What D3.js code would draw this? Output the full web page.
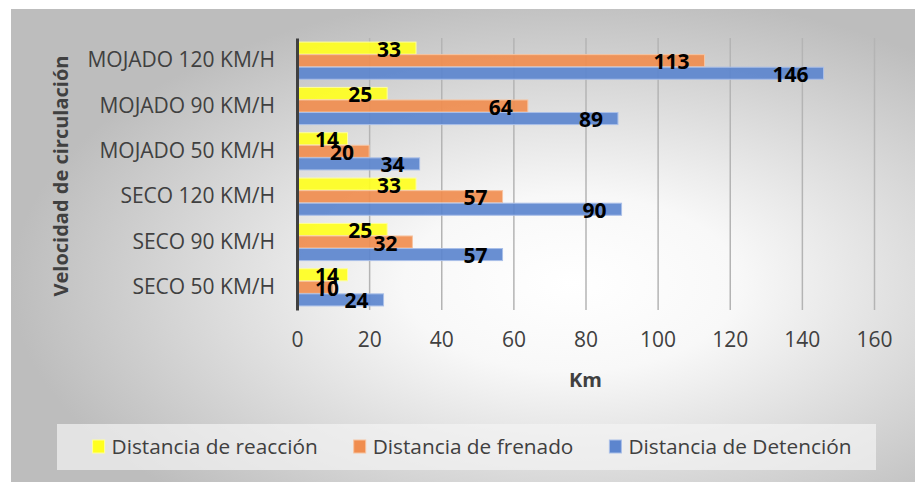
<!DOCTYPE html>
<html>
<head>
<meta charset="utf-8">
<script src="https://cdn.jsdelivr.net/npm/d3@7"></script>
<style>
  body { margin: 0; background: #fff; }
  svg { display: block; font-family: "Open Sans", sans-serif; }
</style>
</head>
<body>
<svg id="chart"></svg>
<script>
const width = 915;
const height = 482;

// data, bottom category first (as in the source sheet)
const categories = ['SECO 50 KM/H', 'SECO 90 KM/H', 'SECO 120 KM/H', 'MOJADO 50 KM/H', 'MOJADO 90 KM/H', 'MOJADO 120 KM/H'];
const reaccion = [14, 25, 33, 14, 25, 33];
const frenado = [10, 32, 57, 20, 64, 113];
const detencion = [24, 57, 90, 34, 89, 146];
const seriesNames = ['Distancia de reacción', 'Distancia de frenado', 'Distancia de Detención'];
const xTicks = [0, 20, 40, 60, 80, 100, 120, 140, 160];

const colors = ['#FFFF1F', '#F08D4F', '#5C85CE'];
const strokes = ['#FFFF9A', '#F7C3A0', '#A9BFE8'];

const plot = {left: 297, right: 874, top: 38, bottom: 310};

const svg = d3.select('#chart')
    .attr('width', width)
    .attr('height', height);

const defs = svg.append('defs');
const grad = defs.append('radialGradient')
    .attr('id', 'bg')
    .attr('cx', 0.62).attr('cy', 0.58).attr('r', 0.62);
grad.append('stop').attr('offset', '0%').attr('stop-color', '#ffffff');
grad.append('stop').attr('offset', '30%').attr('stop-color', '#f8f8f8');
grad.append('stop').attr('offset', '100%').attr('stop-color', '#bdbdbd');

svg.append('rect')
    .attr('x', 11).attr('y', 9)
    .attr('width', width - 11).attr('height', height - 9)
    .attr('fill', 'url(#bg)');

const x = d3.scaleLinear().domain([0, 160]).range([plot.left, plot.right]);
const y = d3.scaleBand()
    .domain(categories.slice().reverse())
    .range([plot.top, plot.bottom])
    .paddingInner(0.18)
    .paddingOuter(0.09);
const yInner = d3.scaleBand().domain([0, 1, 2]).range([0, y.bandwidth()]).paddingInner(0.04);

// gridlines
svg.append('g')
    .attr('transform', `translate(0, ${plot.bottom})`)
    .call(d3.axisBottom(x).tickValues(xTicks.slice(1)).tickSize(-(plot.bottom - plot.top)).tickFormat(''))
    .call(g => g.select('.domain').remove())
    .call(g => g.selectAll('line').attr('stroke', '#b4b4b4').attr('stroke-width', 1.5));

// tick labels
svg.append('g')
    .attr('transform', `translate(0, ${plot.bottom})`)
    .call(d3.axisBottom(x).tickValues(xTicks).tickSize(0).tickPadding(22))
    .call(g => g.select('.domain').remove())
    .call(g => g.selectAll('text')
        .attr('font-family', '"Open Sans", sans-serif')
        .attr('font-size', 21)
        .attr('fill', '#404040'));

const rows = categories.map((c, i) => ({cat: c, values: [reaccion[i], frenado[i], detencion[i]]}));

const groups = svg.append('g').selectAll('g')
    .data(rows).enter()
    .append('g')
    .attr('transform', d => `translate(0, ${y(d.cat)})`);

groups.selectAll('rect')
    .data(d => d.values).enter()
    .append('rect')
    .attr('x', x(0))
    .attr('y', (d, i) => yInner(i))
    .attr('width', d => x(d) - x(0))
    .attr('height', yInner.bandwidth())
    .attr('fill', (d, i) => colors[i])
    .attr('fill-opacity', 0.92)
    .attr('stroke', (d, i) => strokes[i])
    .attr('stroke-width', 1);

// category axis with dark baseline
svg.append('g')
    .attr('transform', `translate(${plot.left}, 0)`)
    .call(d3.axisLeft(y).tickSize(0).tickSizeOuter(0).tickPadding(22))
    .call(g => g.select('.domain').attr('stroke', '#404040').attr('stroke-width', 3))
    .call(g => g.selectAll('text')
        .attr('font-family', '"Open Sans", sans-serif')
        .attr('font-size', 21)
        .attr('fill', '#404040'));

// value labels
const labelLayer = svg.append('g');
rows.forEach(r => {
    r.values.forEach((v, i) => {
        const cy = y(r.cat) + yInner(i) + yInner.bandwidth() / 2;
        const t = labelLayer.append('text')
            .attr('x', x(v) - 15)
            .attr('y', cy + 8.5)
            .attr('text-anchor', 'end')
            .attr('font-family', '"Open Sans", sans-serif')
            .attr('font-weight', 700)
            .attr('font-size', 21)
            .attr('fill', '#000')
            .text(v);
        const w = t.node().getComputedTextLength();
        if (x(v) - 15 - w < x(0) + 18) {
            t.attr('text-anchor', 'start').attr('x', x(0) + 18);
        }
    });
});

// axis titles
svg.append('text')
    .attr('transform', `translate(68, ${(plot.top + plot.bottom) / 2 + 2}) rotate(-90)`)
    .attr('text-anchor', 'middle')
    .attr('font-weight', 700)
    .attr('font-size', 20)
    .attr('fill', '#404040')
    .text('Velocidad de circulación');

svg.append('text')
    .attr('x', x(80))
    .attr('y', 387)
    .attr('text-anchor', 'middle')
    .attr('font-weight', 700)
    .attr('font-size', 20)
    .attr('fill', '#404040')
    .text('Km');

// legend
const legendBox = {x: 57, y: 424, w: 819, h: 46};
svg.append('rect')
    .attr('x', legendBox.x).attr('y', legendBox.y)
    .attr('width', legendBox.w).attr('height', legendBox.h)
    .attr('fill', '#f4f4f4')
    .attr('fill-opacity', 0.7);

const legend = svg.append('g');
let lx = 0;
seriesNames.forEach((name, i) => {
    const item = legend.append('g').attr('transform', `translate(${lx}, 0)`);
    item.append('rect')
        .attr('x', 0).attr('y', -7)
        .attr('width', 12).attr('height', 13)
        .attr('fill', colors[i])
        .attr('stroke', strokes[i]);
    const t = item.append('text')
        .attr('x', 19).attr('y', 7)
        .attr('font-size', 20.8)
        .attr('fill', '#404040')
        .text(name);
    lx += 19 + t.node().getComputedTextLength() + 36;
});
const legendW = lx - 36;
legend.attr('transform', `translate(${472 - legendW / 2}, ${legendBox.y + legendBox.h / 2})`);
</script>
</body>
</html>
